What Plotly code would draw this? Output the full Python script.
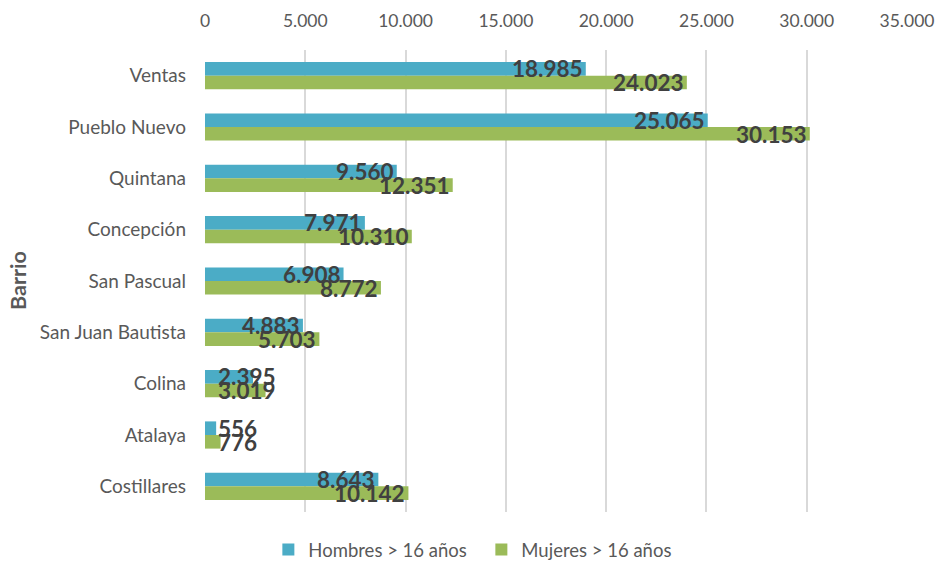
import plotly.graph_objects as go

barrios = ["Ventas", "Pueblo Nuevo", "Quintana", "Concepción", "San Pascual",
           "San Juan Bautista", "Colina", "Atalaya", "Costillares"]
hombres = [18985, 25065, 9560, 7971, 6908, 4883, 2395, 556, 8643]
mujeres = [24023, 30153, 12351, 10310, 8772, 5703, 3019, 776, 10142]
tick_vals = [0, 5000, 10000, 15000, 20000, 25000, 30000, 35000]
tick_text = ["0", "5.000", "10.000", "15.000", "20.000", "25.000", "30.000", "35.000"]

FONT = "Lato"
BLUE = "#4BACC6"
GREEN = "#9BBB59"


def fmt(v):
    return f"{v:,}".replace(",", ".")


fig = go.Figure()
fig.add_trace(go.Bar(y=barrios, x=hombres, orientation="h", name="Hombres > 16 años",
                     marker=dict(color=BLUE, line=dict(width=0))))
fig.add_trace(go.Bar(y=barrios, x=mujeres, orientation="h", name="Mujeres > 16 años",
                     marker=dict(color=GREEN, line=dict(width=0))))

annotations = []
for series, shift in ((hombres, 7), (mujeres, -7)):
    for b, v in zip(barrios, series):
        small = v < 3500
        annotations.append(dict(
            x=v if not small else 0, y=b, xref="x", yref="y",
            text=fmt(v), showarrow=False,
            xanchor="right" if not small else "left",
            xshift=-1 if not small else 11,
            yshift=shift,
            font=dict(family=FONT, size=22.5, color="#404040", weight="bold"),
        ))

annotations.append(dict(
    x=(18 - 205) / 702, xref="paper", y=0.5, yref="paper", text="<b>Barrio</b>",
    showarrow=False, textangle=-90, xanchor="center",
    font=dict(family=FONT, size=21.5, color="#595959")))

fig.update_layout(
    width=942, height=569,
    margin=dict(l=205, r=35, t=50, b=57),
    paper_bgcolor="white", plot_bgcolor="white",
    barmode="group", bargap=0.47, bargroupgap=0,
    font=dict(family=FONT, size=18, color="#595959"),
    xaxis=dict(side="top", range=[0, 35000], tickvals=tick_vals, ticktext=tick_text,
               showgrid=True, gridcolor="#D9D9D9", gridwidth=1.5, zeroline=False,
               showline=False, ticks="", ticklabelstandoff=19, automargin=False,
               tickfont=dict(family=FONT, size=17.5, color="#595959")),
    yaxis=dict(categoryorder="array", categoryarray=barrios, autorange="reversed",
               showgrid=False, zeroline=False, showline=False, ticks="",
               ticklabelstandoff=18, automargin=False,
               tickfont=dict(family=FONT, size=19, color="#595959")),
    legend=dict(orientation="h", xref="container", x=0.511, xanchor="center",
                yref="container", y=0.0, yanchor="bottom",
                font=dict(family=FONT, size=18.5, color="#595959"),
                traceorder="normal", itemwidth=30, entrywidth=168),
    annotations=annotations,
)

fig.write_html("out.html", config={"displayModeBar": False},
               post_script="document.body.style.margin='0';")
